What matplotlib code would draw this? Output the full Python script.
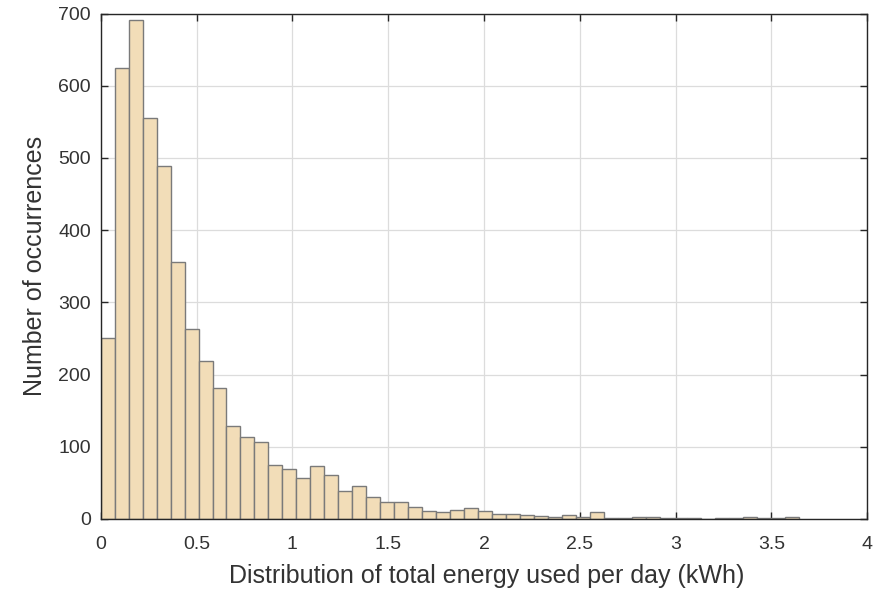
import numpy as np
import matplotlib
matplotlib.use("Agg")
import matplotlib.pyplot as plt

plt.rcParams['font.family'] = ['Liberation Sans', 'DejaVu Sans']

# histogram of daily energy use: 50 equal bins starting at 0
bin_width = 0.0729
counts = [251, 624, 691, 556, 489, 356, 263, 219, 181, 129,
          113, 106, 75, 69, 57, 73, 61, 39, 45, 30,
          24, 24, 16, 11, 10, 13, 15, 11, 7, 7,
          5, 4, 2, 6, 2, 9, 1, 1, 3, 3,
          1, 1, 1, 0, 1, 1, 2, 1, 1, 2]
x_ticks = [0, 0.5, 1, 1.5, 2, 2.5, 3, 3.5, 4]
y_ticks = [0, 100, 200, 300, 400, 500, 600, 700]

edges = np.arange(len(counts) + 1) * bin_width
txt = '#333333'

fig = plt.figure(figsize=(8.84, 5.89), dpi=100)
ax = fig.add_axes([0.114, 0.119, 0.867, 0.858])

ax.hist(edges[:-1], bins=edges, weights=counts, color='#f2ddb8',
        edgecolor='#7a7a7a', linewidth=1.0, zorder=2)

ax.set_xlim(0, 4)
ax.set_ylim(0, 700)
ax.set_xticks(x_ticks)
ax.set_xticklabels([f"{t:g}" for t in x_ticks])
ax.set_yticks(y_ticks)

ax.grid(True, color='#dcdcdc', linewidth=0.9, zorder=0)
ax.set_axisbelow(True)
ax.tick_params(direction='in', length=5, width=1, colors='#262626',
               labelcolor=txt, labelsize=14, top=True, right=True)
ax.tick_params(axis='x', pad=12.5)
ax.tick_params(axis='y', pad=7)
for s in ax.spines.values():
    s.set_color('#262626')
    s.set_linewidth(1.0)

ax.set_xlabel("Distribution of total energy used per day (kWh)", fontsize=18, color=txt)
ax.set_ylabel("Number of occurrences", fontsize=18, color=txt)
ax.xaxis.set_label_coords(0.504, -0.09)
ax.yaxis.set_label_coords(-0.0705, 0.5)

fig.savefig("out.png", dpi=100)
